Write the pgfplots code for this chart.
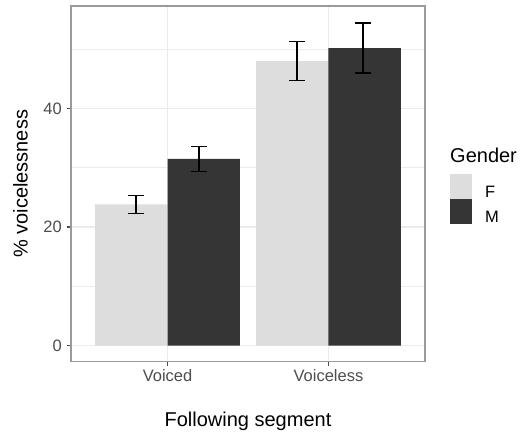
\documentclass[border=0pt]{standalone}
\usepackage{pgfplots}
\pgfplotsset{compat=1.18}
\usepackage{fontspec}
\setmainfont{Liberation Sans}
\definecolor{fcol}{HTML}{DDDDDD}
\definecolor{mcol}{HTML}{353535}
\definecolor{gridc}{HTML}{EBEBEB}
\definecolor{borderc}{HTML}{9A9A9A}
\definecolor{tickc}{HTML}{4D4D4D}
\begin{document}
\begin{tikzpicture}
\useasboundingbox (0,0) rectangle (526pt,433pt);
\begin{axis}[
  at={(71pt,71.3pt)}, anchor=south west,
  scale only axis, width=354pt, height=355.7pt,
  xmin=0.4, xmax=2.6, ymin=-2.73, ymax=57.3,
  xtick={1,2}, xticklabels={Voiced,Voiceless},
  ytick={0,20,40}, minor ytick={10,30,50},
  /pgf/number format/assume math mode=true,
  grid=both,
  major grid style={draw=gridc, line width=1.6pt},
  minor grid style={draw=gridc, line width=0.8pt},
  axis line style={draw=borderc, line width=1.4pt},
  tick align=outside, tick pos=left,
  major tick length=4.5pt, minor tick length=0pt,
  tick style={draw=tickc, line width=1.2pt},
  ticklabel style={font=\fontsize{16.5pt}{18pt}\selectfont, text=tickc, inner sep=0pt},
  yticklabel style={anchor=east, xshift=-4.5pt},
  xticklabel style={anchor=north, yshift=-3.5pt},
  xlabel={Following segment},
  ylabel={\% voicelessness},
  label style={font=\fontsize{20pt}{22pt}\selectfont, inner sep=0pt},
  xlabel style={at={(axis description cs:0.5,-0.1827)}, anchor=base},
  ylabel style={at={(axis description cs:-0.1226,0.5)}, anchor=base},
  legend style={at={(axis description cs:1.0706,0.5277)}, anchor=north west,
    draw=none, fill=none, inner sep=0pt, row sep=0.5pt, column sep=13pt,
    font=\fontsize{16.5pt}{18pt}\selectfont, nodes={inner sep=0pt}},
  legend cell align=left,
  clip=false,
]
\addplot[ybar, bar width=0.45, bar shift=0pt, fill=fcol, draw=none,
  legend image code/.code={\fill[fcol] (0pt,-6.3pt) rectangle (22pt,18.2pt);}]
  coordinates {(0.775,23.8) (1.775,48.0)};
\addlegendentry{F}
\addplot[ybar, bar width=0.45, bar shift=0pt, fill=mcol, draw=none,
  legend image code/.code={\fill[mcol] (0pt,-6.3pt) rectangle (22pt,18.2pt);}]
  coordinates {(1.225,31.5) (2.225,50.2)};
\addlegendentry{M}
\addplot[draw=none, mark=none, forget plot,
  error bars/.cd, y dir=both, y explicit,
  error bar style={draw=black, line width=1.5pt},
  error mark options={rotate=90, mark size=7.8pt, draw=black, line width=1.5pt}]
  coordinates {
    (0.805,23.8) +- (0,1.5)
    (1.805,48.0) +- (0,3.3)
    (1.195,31.5) +- (0,2.1)
    (2.215,50.2) +- (0,4.25)
  };
\node[anchor=base west, inner sep=0pt, font=\fontsize{20pt}{22pt}\selectfont]
  at (axis description cs:1.0706,0.5595) {Gender};
\end{axis}
\end{tikzpicture}
\end{document}
